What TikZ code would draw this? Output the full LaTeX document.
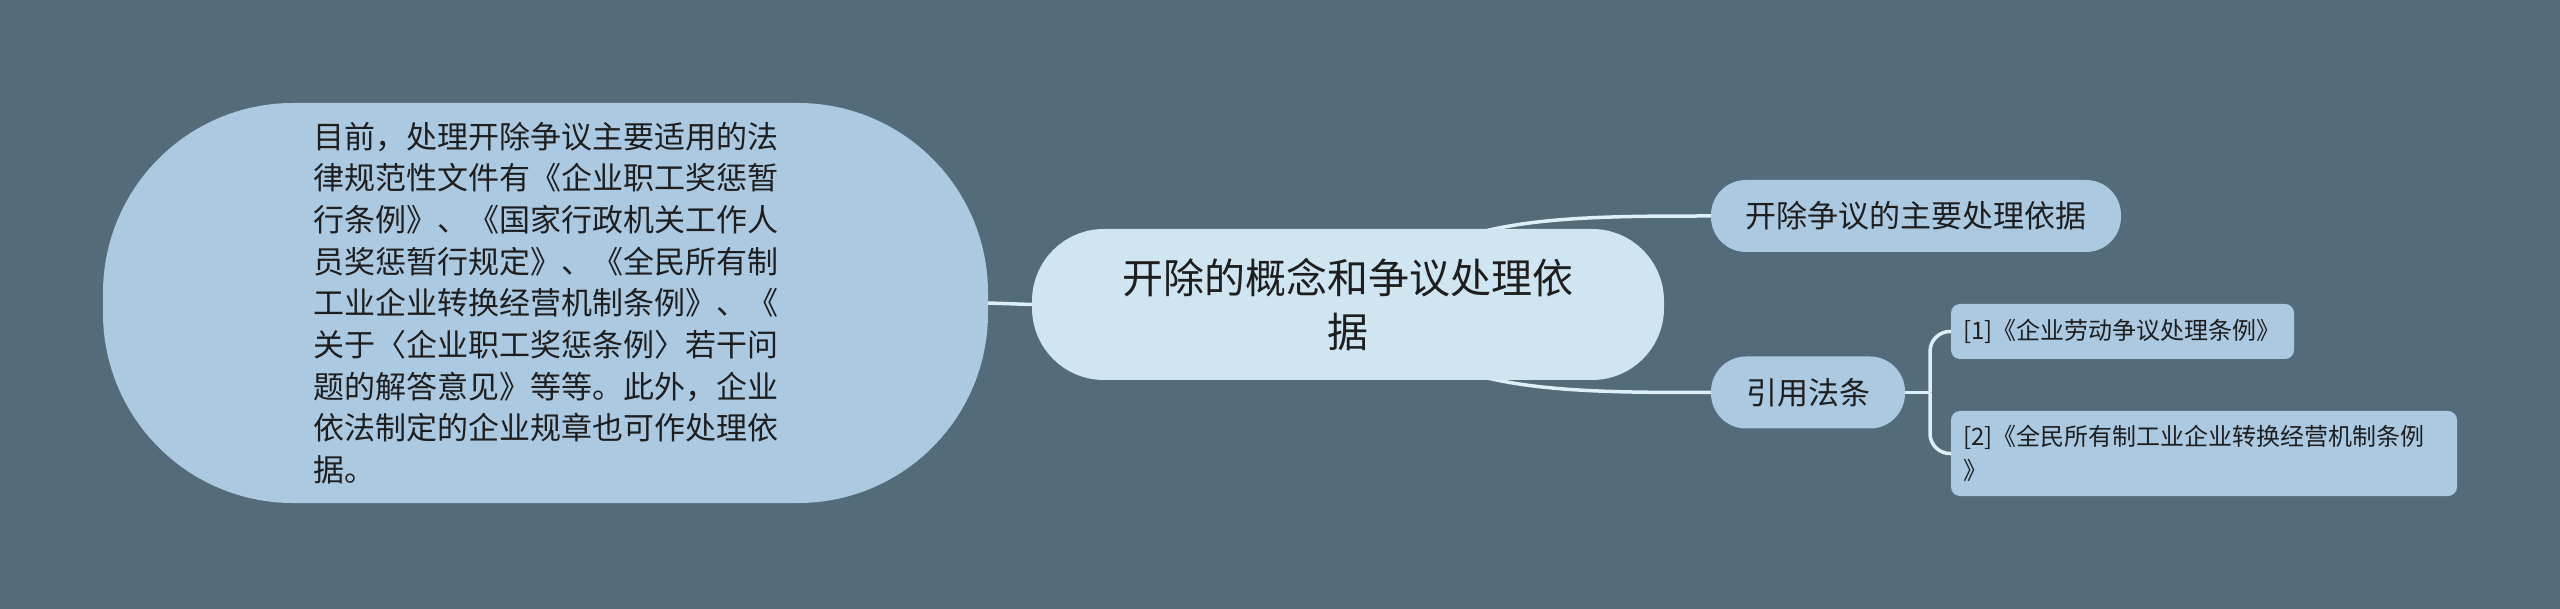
\documentclass[tikz,border=0pt]{standalone}
\usepackage{fontspec}
\setmainfont{Noto Sans CJK SC}
\pgfdeclarelayer{back}
\pgfdeclarelayer{bg}
\pgfsetlayers{back,bg,main}
\definecolor{bgc}{HTML}{546B7A}
\definecolor{nodec}{HTML}{ABCAE1}
\definecolor{rootc}{HTML}{CFE5F2}
\definecolor{linec}{HTML}{DDEFF9}
\definecolor{txtc}{HTML}{1E1E1E}
\tikzset{
  bubble/.style={fill=nodec, text=txtc, inner sep=0pt, align=left,
    minimum width=885pt, minimum height=400pt, rounded corners=190pt,
    font=\fontsize{31}{41.7}\selectfont},
  rootbox/.style={fill=rootc, text=txtc, inner sep=0pt, align=center,
    minimum width=632pt, minimum height=151pt, rounded corners=72pt,
    font=\fontsize{41}{54}\selectfont},
  topicbox/.style={fill=nodec, text=txtc, inner sep=0pt, align=center,
    minimum height=72pt, rounded corners=35pt,
    font=\fontsize{31}{40}\selectfont},
  leafbox/.style={fill=nodec, text=txtc, inner xsep=12pt, inner ysep=0pt,
    align=left, rounded corners=9pt,
    font=\fontsize{24}{34}\selectfont},
  conn/.style={draw=linec, line width=3.5pt},
}
\begin{document}
\begin{tikzpicture}[x=1pt,y=-1pt]
\begin{pgfonlayer}{back}
\fill[bgc] (0,0) rectangle (2560,609);
\end{pgfonlayer}
\useasboundingbox (0,0) rectangle (2560,609);

\node[bubble] (lb) at (545.5,303) {目前，处理开除争议主要适用的法\\律规范性文件有《企业职工奖惩暂\\行条例》、《国家行政机关工作人\\员奖惩暂行规定》、《全民所有制\\工业企业转换经营机制条例》、《\\关于〈企业职工奖惩条例〉若干问\\题的解答意见》等等。此外，企业\\依法制定的企业规章也可作处理依\\据。};

\node[rootbox] (root) at (1348,304.5) {开除的概念和争议处理依\\据};

\node[topicbox, minimum width=410pt] (t1) at (1916,216) {开除争议的主要处理依据};
\node[topicbox, minimum width=194pt] (t2) at (1808,392.5) {引用法条};

\node[leafbox, text width=319pt, minimum height=55pt] (n1) at (2122.5,331.5) {[1]《企业劳动争议处理条例》};
\node[leafbox, text width=482pt, minimum height=85pt] (n2) at (2204,453.5) {[2]《全民所有制工业企业转换经营机制条例\\》};

\coordinate (rs) at (1380,304);
\coordinate (br) at (1930,392.5);

\begin{pgfonlayer}{bg}
\draw[conn] (lb.east) -- (root.west);
\draw[conn] (rs) .. controls (1420,216) and (1560,216) .. (t1.west);
\draw[conn] (rs) .. controls (1420,392.5) and (1560,392.5) .. (t2.west);
\draw[conn] (t2.east) -- (br);
\draw[conn, rounded corners=20pt] (br) |- (n1.west);
\draw[conn, rounded corners=20pt] (br) |- (n2.west);
\end{pgfonlayer}
\end{tikzpicture}
\end{document}
